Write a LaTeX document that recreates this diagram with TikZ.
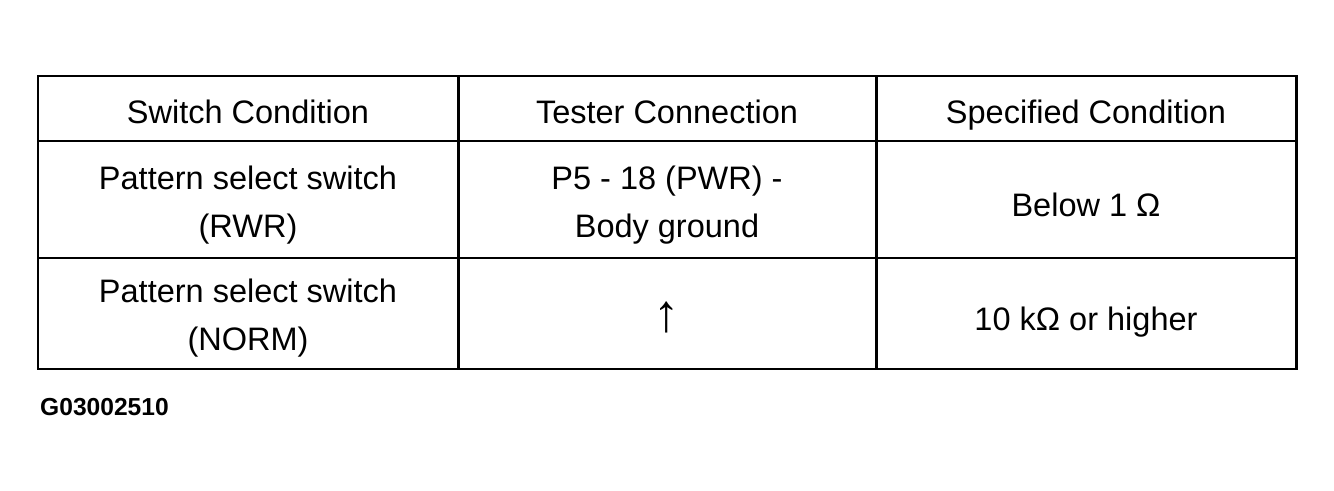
\documentclass[tikz,border=0pt]{standalone}
\usepackage{fontspec}
\setmainfont{Liberation Sans}
\tikzset{
  cell/.style={align=center, font={\fontsize{18.5}{27}\selectfont}},
  single/.style={cell, text height=0.72em, text depth=0.22em},
  grid/.style={line width=1.7pt},
}
\begin{document}
\begin{tikzpicture}[x=0.02cm, y=-0.02cm]
\useasboundingbox (0,0) rectangle (1334,490);
% table frame
\draw [grid] (38,76) rectangle (1296,369);
\draw [grid] (38,141) -- (1296,141);
\draw [grid] (38,258) -- (1296,258);
\draw [grid] (458,76) -- (458,369);
\draw [grid] (876,76) -- (876,369);

% header
\node (h1) [single] at (248,119) {Switch Condition};
\node (h2) [single] at (667,119) {Tester Connection};
\node (h3) [single] at (1086,119) {Specified Condition};

% first row
\node (r1a) [cell] at (248,205) {Pattern select switch\\(RWR)};
\node (r1b) [cell] at (667,205) {P5 - 18 (PWR) -\\Body ground};
\node (r1c) [single] at (1086,212) {Below 1 Ω};

% second row
\node (r2a) [cell] at (248,318) {Pattern select switch\\(NORM)};
\node (r2b) [cell, font={\fontsize{30}{30}\selectfont}] at (667,317) {↑};
\node (r2c) [single] at (1086,326) {10 kΩ or higher};

\node (code) [anchor=west, font={\fontsize{14}{16}\selectfont\bfseries}] at (34,407) {G03002510};
\end{tikzpicture}
\end{document}
